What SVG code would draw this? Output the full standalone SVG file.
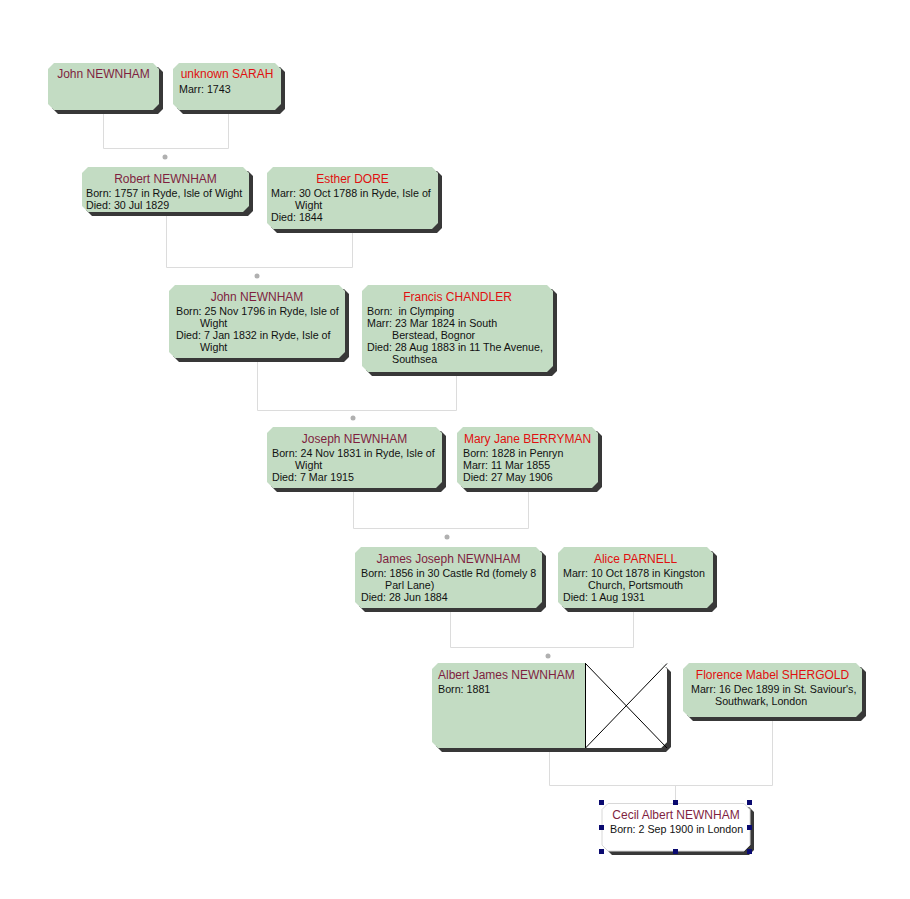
<svg xmlns="http://www.w3.org/2000/svg" width="910" height="899" viewBox="0 0 910 899">
<style>
.bg{fill:#ffffff}
.box{fill:#c3dcc3}
.wbox{fill:#ffffff;stroke:#d8d8d8;stroke-width:1}
.sh{fill:#383838}
.nm{font-family:"Liberation Sans",Arial,sans-serif;font-size:12px;text-anchor:middle}
.m{fill:#7f1f3f}
.f{fill:#e01010}
.t{font-family:"Liberation Sans",Arial,sans-serif;font-size:10.7px;fill:#111111}
.cn{fill:none;stroke:#dcdcdc;stroke-width:1}
.dot{fill:#b0b0b0}
.h{fill:#0a0a70}
</style>
<rect class="bg" x="0" y="0" width="910" height="899"/>
<g id="connectors">
<path class="cn" d="M103.5 110V148.5H228.5V110"/>
<circle class="dot" cx="165" cy="157" r="2.5"/>
<path class="cn" d="M166.5 212V267.5H352.5V229"/>
<circle class="dot" cx="257" cy="276" r="2.5"/>
<path class="cn" d="M257.5 358V410.5H456.5V372"/>
<circle class="dot" cx="353" cy="418" r="2.5"/>
<path class="cn" d="M353.5 488V528.5H528.5V488"/>
<circle class="dot" cx="447" cy="537" r="2.5"/>
<path class="cn" d="M450.5 608V647.5H633.5V608"/>
<circle class="dot" cx="548" cy="656" r="2.5"/>
<path class="cn" d="M549.5 748V785.5H772.5V717M675.5 785V803"/>
</g>
<g id="n1">
<path class="sh" d="M58 67H158L163 72V109L158 114H58L52 108V73Z"/>
<path class="box" d="M54 63H153L159 69V104L153 110H54L48 104V69Z"/>
<text class="nm m" x="103.5" y="78">John NEWNHAM</text>
</g>
<g id="n2">
<path class="sh" d="M183 67H280L285 72V109L280 114H183L177 108V73Z"/>
<path class="box" d="M179 63H275L281 69V104L275 110H179L173 104V69Z"/>
<text class="nm f" x="227" y="78">unknown SARAH</text>
<text class="t" x="179" y="93">Marr: 1743</text>
</g>
<g id="n3">
<path class="sh" d="M92 171H248L253 176V211L248 216H92L86 210V177Z"/>
<path class="box" d="M88 167H243L249 173V206L243 212H88L82 206V173Z"/>
<text class="nm m" x="165.5" y="183">Robert NEWNHAM</text>
<text class="t" x="86" y="197">Born: 1757 in Ryde, Isle of Wight</text>
<text class="t" x="86" y="209">Died: 30 Jul 1829</text>
</g>
<g id="n4">
<path class="sh" d="M277 171H437L442 176V228L437 233H277L271 227V177Z"/>
<path class="box" d="M273 167H432L438 173V223L432 229H273L267 223V173Z"/>
<text class="nm f" x="352.5" y="183">Esther DORE</text>
<text class="t" x="271" y="197">Marr: 30 Oct 1788 in Ryde, Isle of</text>
<text class="t" x="295" y="209">Wight</text>
<text class="t" x="271" y="221">Died: 1844</text>
</g>
<g id="n5">
<path class="sh" d="M179 289H344L349 294V357L344 362H179L173 356V295Z"/>
<path class="box" d="M175 285H339L345 291V352L339 358H175L169 352V291Z"/>
<text class="nm m" x="257" y="301">John NEWNHAM</text>
<text class="t" x="176" y="315">Born: 25 Nov 1796 in Ryde, Isle of</text>
<text class="t" x="200" y="327">Wight</text>
<text class="t" x="176" y="339">Died: 7 Jan 1832 in Ryde, Isle of</text>
<text class="t" x="200" y="351">Wight</text>
</g>
<g id="n6">
<path class="sh" d="M372 289H552L557 294V371L552 376H372L366 370V295Z"/>
<path class="box" d="M368 285H547L553 291V366L547 372H368L362 366V291Z"/>
<text class="nm f" x="457.5" y="301">Francis CHANDLER</text>
<text class="t" x="367" y="315">Born:&#160; in Clymping</text>
<text class="t" x="367" y="327">Marr: 23 Mar 1824 in South</text>
<text class="t" x="392" y="339">Berstead, Bognor</text>
<text class="t" x="367" y="351">Died: 28 Aug 1883 in 11 The Avenue,</text>
<text class="t" x="392" y="363">Southsea</text>
</g>
<g id="n7">
<path class="sh" d="M277 431H441L446 436V487L441 492H277L271 486V437Z"/>
<path class="box" d="M273 427H436L442 433V482L436 488H273L267 482V433Z"/>
<text class="nm m" x="354.5" y="443">Joseph NEWNHAM</text>
<text class="t" x="272" y="457">Born: 24 Nov 1831 in Ryde, Isle of</text>
<text class="t" x="295" y="469">Wight</text>
<text class="t" x="272" y="481">Died: 7 Mar 1915</text>
</g>
<g id="n8">
<path class="sh" d="M467 431H597L602 436V487L597 492H467L461 486V437Z"/>
<path class="box" d="M463 427H592L598 433V482L592 488H463L457 482V433Z"/>
<text class="nm f" x="527.5" y="443">Mary Jane BERRYMAN</text>
<text class="t" x="463" y="457">Born: 1828 in Penryn</text>
<text class="t" x="463" y="469">Marr: 11 Mar 1855</text>
<text class="t" x="463" y="481">Died: 27 May 1906</text>
</g>
<g id="n9">
<path class="sh" d="M365 551H541L546 556V607L541 612H365L359 606V557Z"/>
<path class="box" d="M361 547H536L542 553V602L536 608H361L355 602V553Z"/>
<text class="nm m" x="448.5" y="563">James Joseph NEWNHAM</text>
<text class="t" x="361" y="577">Born: 1856 in 30 Castle Rd (fomely 8</text>
<text class="t" x="385" y="589">Parl Lane)</text>
<text class="t" x="361" y="601">Died: 28 Jun 1884</text>
</g>
<g id="n10">
<path class="sh" d="M568 551H712L717 556V607L712 612H568L562 606V557Z"/>
<path class="box" d="M564 547H707L713 553V602L707 608H564L558 602V553Z"/>
<text class="nm f" x="635.5" y="563">Alice PARNELL</text>
<text class="t" x="563" y="577">Marr: 10 Oct 1878 in Kingston</text>
<text class="t" x="588" y="589">Church, Portsmouth</text>
<text class="t" x="563" y="601">Died: 1 Aug 1931</text>
</g>
<g id="n11">
<path class="sh" d="M442 667H666L671 672V747L666 752H442L436 746V673Z"/>
<path class="box" d="M438 663H661L667 669V742L661 748H438L432 742V669Z"/>
<path fill="#ffffff" d="M585 663H661L667 669V742L661 748H585Z"/>
<path fill="none" stroke="#000000" stroke-width="1" d="M585.5 663V748M585.5 663.5L667 748M667 663.5L585.5 748"/>
<text class="nm m" x="438" y="679" style="text-anchor:start">Albert James NEWNHAM</text>
<text class="t" x="438" y="693">Born: 1881</text>
</g>
<g id="n12">
<path class="sh" d="M693 667H861L866 672V716L861 721H693L687 715V673Z"/>
<path class="box" d="M689 663H856L862 669V711L856 717H689L683 711V669Z"/>
<text class="nm f" x="772.5" y="679">Florence Mabel SHERGOLD</text>
<text class="t" x="691" y="693">Marr: 16 Dec 1899 in St. Saviour's,</text>
<text class="t" x="715" y="705">Southwark, London</text>
</g>
<g id="n13">
<path class="sh" d="M612 807H749L754 812V850L749 855H612L606 849V813Z"/>
<path class="wbox" d="M608 803.5H744L750 809.5V845L744 851H608L602 845V809.5Z"/>
<text class="nm m" x="676" y="819">Cecil Albert NEWNHAM</text>
<text class="t" x="610" y="833">Born: 2 Sep 1900 in London</text>
<rect class="h" x="599" y="800" width="5" height="5"/>
<rect class="h" x="673" y="800" width="5" height="5"/>
<rect class="h" x="747" y="800" width="5" height="5"/>
<rect class="h" x="599" y="825" width="5" height="5"/>
<rect class="h" x="747" y="825" width="5" height="5"/>
<rect class="h" x="599" y="849" width="5" height="5"/>
<rect class="h" x="673" y="849" width="5" height="5"/>
<rect class="h" x="747" y="849" width="5" height="5"/>
</g>
</svg>
